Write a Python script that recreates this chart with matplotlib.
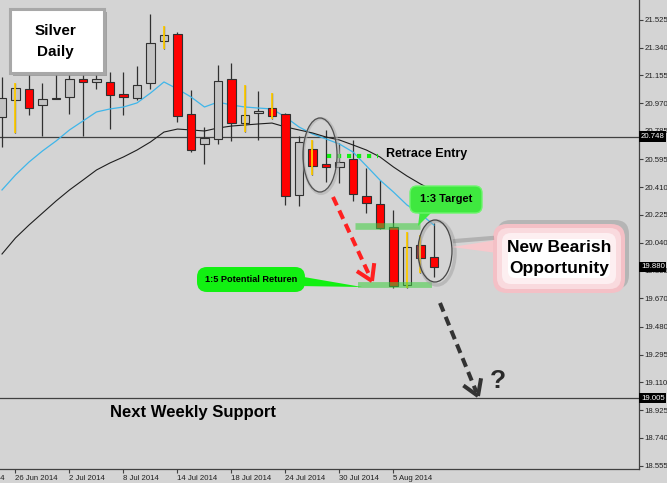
import matplotlib
matplotlib.use("Agg")
import matplotlib.pyplot as plt
import numpy as np
import pandas as pd
from matplotlib.patches import Rectangle, FancyBboxPatch, Ellipse, Polygon
from matplotlib.transforms import blended_transform_factory

plt.rcParams['font.family'] = ['Liberation Sans', 'DejaVu Sans']

# silver daily candles, 25 Jun .. 8 Aug 2014
opens = [20.878, 20.992, 21.065, 20.958, 21.000, 21.012, 21.132, 21.112, 21.112, 21.032,
         21.005, 21.105, 21.385, 21.432, 20.898, 20.698, 20.732, 21.132, 20.838, 20.905,
         20.938, 20.898, 20.358, 20.665, 20.565, 20.545, 20.598, 20.352, 20.298, 20.145,
         19.758, 20.025, 19.945]
highs = [21.145, 21.105, 21.158, 21.105, 21.158, 21.158, 21.158, 21.158, 21.178, 21.178,
         21.218, 21.565, 21.485, 21.445, 21.058, 20.812, 21.225, 21.238, 21.092, 21.052,
         21.038, 20.905, 20.752, 20.725, 20.792, 20.705, 20.725, 20.538, 20.458, 20.258,
         20.112, 20.092, 20.172]
lows = [20.678, 20.772, 20.892, 20.752, 20.995, 20.898, 20.752, 21.065, 20.798, 20.892,
        20.992, 21.065, 21.332, 20.845, 20.645, 20.565, 20.698, 20.718, 20.778, 20.725,
        20.865, 20.292, 20.285, 20.492, 20.445, 20.438, 20.318, 20.238, 20.132, 19.738,
        19.738, 19.838, 19.812]
closes = [21.005, 21.072, 20.938, 20.998, 21.005, 21.132, 21.112, 21.132, 21.025, 21.012,
          21.092, 21.372, 21.425, 20.885, 20.658, 20.738, 21.118, 20.838, 20.892, 20.918,
          20.885, 20.352, 20.712, 20.552, 20.545, 20.578, 20.365, 20.305, 20.138, 19.752,
          20.012, 19.938, 19.878]
yellow_wicks = [1, 12, 18, 20, 23, 30, 31]

ma_fast = [20.392, 20.492, 20.578, 20.652, 20.718, 20.792, 20.852, 20.912, 20.932, 20.945,
           20.972, 21.038, 21.112, 21.065, 21.012, 20.945, 20.978, 20.958, 20.945, 20.938,
           20.932, 20.878, 20.812, 20.765, 20.732, 20.698, 20.645, 20.552, 20.458, 20.378,
           20.292, 20.232, 20.158]
ma_slow = [19.965, 20.072, 20.158, 20.238, 20.318, 20.392, 20.458, 20.525, 20.572, 20.612,
           20.658, 20.712, 20.778, 20.798, 20.792, 20.785, 20.805, 20.818, 20.825, 20.832,
           20.838, 20.812, 20.792, 20.772, 20.745, 20.725, 20.692, 20.658, 20.612, 20.545,
           20.485, 20.432, 20.385]

dates = pd.bdate_range("2014-06-25", periods=len(opens))
price_ticks = [21.525, 21.340, 21.155, 20.970, 20.785, 20.595, 20.410, 20.225, 20.040,
               19.855, 19.670, 19.480, 19.295, 19.110, 18.925, 18.740, 18.555]
marked_prices = [20.748, 19.880, 19.005]
resistance = 20.748
weekly_support = 19.005
retrace_entry = 20.618
target_13 = 20.152
target_15 = 19.758

W, H = 667, 483
BG = '#d4d4d4'
fig = plt.figure(figsize=(W / 100, H / 100), dpi=100)
fig.patch.set_facecolor(BG)
ax = fig.add_axes([0, 14 / H, 639 / W, 469 / H])
ax.set_facecolor(BG)
ax.set_xlim(-0.148, 47.19)
ax.set_ylim(18.5317, 21.6583)

x = np.arange(len(opens))
o, h, l, c = map(np.array, (opens, highs, lows, closes))
up = c >= o

ax.vlines(x, l, h, color='#303030', lw=0.9, zorder=2)
ax.bar(x[up], (c - o)[up], bottom=o[up], width=0.62, color='#c4c4c4',
       edgecolor='#303030', lw=0.8, zorder=3)
ax.bar(x[~up], (c - o)[~up], bottom=o[~up], width=0.62, color='#ff0000',
       edgecolor='#303030', lw=0.8, zorder=3)
ax.vlines(x[yellow_wicks], l[yellow_wicks], h[yellow_wicks], color='#ffcc00', lw=1.3, zorder=4)

ax.plot(x, ma_fast, color='#3fb6ea', lw=0.9, zorder=2.5)
ax.plot(x, ma_slow, color='#1e1e1e', lw=0.8, zorder=2.5)

ax.axhline(resistance, color='#404040', lw=0.9, zorder=1.5)
ax.axhline(weekly_support, color='#404040', lw=0.9, zorder=1.5)

# trade levels
ax.hlines(retrace_entry, 24.07, 27.85, color='#10ee10', lw=3.0, ls=(0, (1, 1.4)), zorder=5)
ax.hlines(target_13, 26.15, 30.96, color='#40d040', lw=4.8, alpha=0.55, zorder=5)
ax.hlines(target_15, 26.4, 31.85, color='#40d040', lw=4.2, alpha=0.55, zorder=5)

for s in ('left', 'top'):
    ax.spines[s].set_visible(False)
for s in ('right', 'bottom'):
    ax.spines[s].set_color('#404040')
    ax.spines[s].set_linewidth(0.9)

ax.yaxis.tick_right()
ax.set_yticks(price_ticks)
ax.set_yticklabels([f"{p:.3f}" for p in price_ticks])
tick_idx = list(range(1, len(dates), 4))
ax.set_xticks(tick_idx)
ax.set_xticklabels([f"{d.day} {d:%b %Y}" for d in dates[tick_idx]], ha='left')
ax.tick_params(direction='out', length=3, width=0.8, color='#404040',
               labelsize=5.6, labelcolor='#202020', pad=1)
ax.annotate("20 Jun 2014", xy=(-3, 0), xycoords=('data', 'axes fraction'),
            xytext=(0, -4), textcoords='offset points', ha='left', va='top',
            fontsize=5.6, color='#202020', annotation_clip=False)

right = blended_transform_factory(ax.transAxes, ax.transData)
for p in marked_prices:
    ax.text(1.003, p, f"{p:.3f}", transform=right, color='white', fontsize=5.6,
            ha='left', va='center', clip_on=False, zorder=6,
            bbox=dict(boxstyle='square,pad=0.2', fc='black', ec='none'))

# annotation layer in pixel coordinates
ov = fig.add_axes([0, 0, 1, 1], zorder=10)
ov.set_xlim(0, W)
ov.set_ylim(H, 0)
ov.axis('off')
ov.patch.set_alpha(0)

narrow = ['Liberation Sans Narrow', 'Liberation Sans', 'DejaVu Sans']


def rbox(x0, y0, x1, y1, r, **kw):
    ov.add_patch(FancyBboxPatch((x0, y0), x1 - x0, y1 - y0,
                                boxstyle=f"round,pad=0,rounding_size={r}", **kw))


def dashed_arrow(p0, p1, color, head=18):
    (x0, y0), (x1, y1) = p0, p1
    ang = np.arctan2(y1 - y0, x1 - x0)
    ov.plot([x0, x1 - 4 * np.cos(ang)], [y0, y1 - 4 * np.sin(ang)], color=color,
            lw=2.9, ls=(0, (2.3, 1.4)), dash_capstyle='butt')
    for s in (-1, 1):
        a = ang + np.pi + s * np.radians(32)
        ov.plot([x1, x1 + head * np.cos(a)], [y1, y1 + head * np.sin(a)],
                color=color, lw=2.9, solid_capstyle='butt')


# Silver Daily label
ov.add_patch(Rectangle((13, 12), 94, 64, fc='#808080', alpha=0.6, ec='none'))
ov.add_patch(Rectangle((10, 9), 94, 64, fc='white', ec='#a8a8a8', lw=2.2))
ov.text(55, 31, "Silver", fontsize=11, fontweight='bold', ha='center', va='center')
ov.text(55, 52, "Daily", fontsize=11, fontweight='bold', ha='center', va='center')

# retrace circle + label
ov.add_patch(Ellipse((321, 156), 35, 75, fill=False, ec='#b0b0b0', lw=2.2, alpha=0.6))
ov.add_patch(Ellipse((320, 155), 34, 74, fill=False, ec='#505050', lw=0.9))
ov.text(386, 154, "Retrace Entry", fontsize=9, fontweight='bold', ha='left', va='center')

dashed_arrow((333, 197), (372, 281), '#ff2020')

# 1:3 target callout
ov.add_patch(Polygon([(420, 210), (434, 210), (418, 226)], closed=True, fc='#3fe83f', ec='none'))
rbox(410, 186, 482, 213, 7, fc='#3fe83f', ec='#6cf56c', lw=1)
ov.text(446, 199.5, "1:3 Target", fontsize=8, fontweight='bold', family=narrow,
        ha='center', va='center')

# 1:5 callout
ov.add_patch(Polygon([(298, 276), (298, 286), (362, 287)], closed=True, fc='#12f012', ec='none'))
rbox(197, 267, 305, 292, 10, fc='#12f012', ec='none')
ov.text(251, 279.5, "1:5 Potential Returen", fontsize=6.6, fontweight='bold', family=narrow,
        ha='center', va='center')

# current setup circle
ov.add_patch(Ellipse((437, 253), 36, 64, fill=False, ec='#a0a0a0', lw=2.5, alpha=0.5))
ov.add_patch(Ellipse((435, 251), 34, 62, fill=False, ec='#454545', lw=0.9))

# New Bearish Opportunity callout
ov.plot([455, 492], [241, 238], color='#707070', lw=3, alpha=0.35)
rbox(497, 220, 629, 289, 14, fc='#707070', alpha=0.3, ec='none')
ov.add_patch(Polygon([(452, 247), (497, 240), (497, 253)], closed=True, fc='#f7c8cc', ec='none'))
rbox(493, 224, 625, 293, 14, fc='#f4c0c6', ec='none')
rbox(497, 228, 621, 289, 11, fc='#f9dade', ec='none')
rbox(502, 233, 616, 284, 9, fc='#fdeff1', ec='none')
rbox(508, 239, 610, 278, 7, fc='#ffffff', ec='none')
ov.text(559, 248, "New Bearish", fontsize=12.5, fontweight='bold', family=narrow,
        ha='center', va='center')
ov.text(559, 269, "Opportunity", fontsize=12.5, fontweight='bold', family=narrow,
        ha='center', va='center')

dashed_arrow((440, 303), (478, 396), '#333333')
ov.text(498, 381, "?", fontsize=19, fontweight='bold', color='#2a2a2a', ha='center', va='center')

ov.text(193, 413, "Next Weekly Support", fontsize=12, fontweight='bold', ha='center', va='center')

fig.savefig("out.png", dpi=100, facecolor=BG)
